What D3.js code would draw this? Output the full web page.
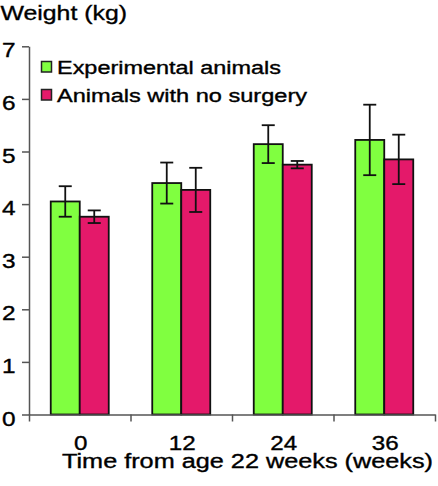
<!DOCTYPE html>
<html>
<head>
<meta charset="utf-8">
<script src="https://cdn.jsdelivr.net/npm/d3@7"></script>
<style>
  html, body { margin: 0; padding: 0; background: #fff; }
  svg { display: block; }
  text { font-family: "Liberation Sans", Arial, Helvetica, sans-serif; fill: #000; stroke: #000; stroke-width: 0.35px; }
</style>
</head>
<body>
<svg id="chart" width="438" height="486"></svg>
<script>
// ---- data ----
const categories = ["0", "12", "24", "36"];
const seriesNames = ["Experimental animals", "Animals with no surgery"];
const experimentalMean = [4.05, 4.40, 5.14, 5.22];
const experimentalErr  = [0.29, 0.39, 0.36, 0.67];
const noSurgeryMean    = [3.76, 4.27, 4.75, 4.85];
const noSurgeryErr     = [0.12, 0.42, 0.07, 0.47];
const yTicks = [0, 1, 2, 3, 4, 5, 6, 7];
const yTitle = "Weight (kg)";
const xTitle = "Time from age 22 weeks (weeks)";
const colors = ["#80FF40", "#E4196A"];

const svg = d3.select("#chart");

const y = d3.scaleLinear().domain([0, 7]).range([414.5, 46.3]);
const x0 = d3.scaleBand().domain(categories).range([29, 435]).paddingInner(0).paddingOuter(0);
const bw = x0.bandwidth();
const x1 = d3.scaleBand().domain(seriesNames).range([(bw - 58) / 2, (bw + 58) / 2]);

const series = [
  { name: seriesNames[0], mean: experimentalMean, err: experimentalErr, color: colors[0] },
  { name: seriesNames[1], mean: noSurgeryMean, err: noSurgeryErr, color: colors[1] }
];

function stretchedText(g, x, y, str, size, anchor, sx) {
  return g.append("text")
    .attr("transform", `translate(${x},${y}) scale(${sx},1)`)
    .attr("text-anchor", anchor)
    .style("font-size", size + "px")
    .text(str);
}
function fitText(g, x, y, str, size, len) {
  return g.append("text")
    .attr("x", x).attr("y", y)
    .attr("textLength", len)
    .attr("lengthAdjust", "spacingAndGlyphs")
    .style("font-size", size + "px")
    .text(str);
}

// ---- bars ----
const groups = svg.append("g").selectAll("g")
  .data(categories).join("g")
  .attr("transform", d => `translate(${x0(d)},0)`);

series.forEach(s => {
  groups.append("rect")
    .attr("x", () => x1(s.name))
    .attr("width", x1.bandwidth())
    .attr("y", (d, i) => y(s.mean[i]))
    .attr("height", (d, i) => y(0) - y(s.mean[i]))
    .attr("fill", s.color)
    .attr("stroke", "#111")
    .attr("stroke-width", 1.8);
});

// ---- error bars ----
series.forEach(s => {
  const cx = x1(s.name) + x1.bandwidth() / 2;
  const eg = groups.append("g").attr("stroke", "#111").attr("stroke-width", 1.8);
  eg.append("line").attr("x1", cx).attr("x2", cx)
    .attr("y1", (d, i) => y(s.mean[i] + s.err[i]))
    .attr("y2", (d, i) => y(s.mean[i] - s.err[i]));
  eg.append("line").attr("x1", cx - 6.5).attr("x2", cx + 6.5)
    .attr("y1", (d, i) => y(s.mean[i] + s.err[i]))
    .attr("y2", (d, i) => y(s.mean[i] + s.err[i]));
  eg.append("line").attr("x1", cx - 6.5).attr("x2", cx + 6.5)
    .attr("y1", (d, i) => y(s.mean[i] - s.err[i]))
    .attr("y2", (d, i) => y(s.mean[i] - s.err[i]));
});

// ---- y axis ----
const yAxis = svg.append("g").attr("transform", "translate(29,0)")
  .call(d3.axisLeft(y).tickValues(yTicks).tickSize(7).tickSizeOuter(0).tickFormat(""));
yAxis.selectAll("path, line").attr("stroke", "#555").attr("stroke-width", 1.5);
yTicks.forEach(t => stretchedText(svg, 15.5, y(t) + 11, String(t), 19.5, "end", 1.25));

// ---- x axis ----
const xb = d3.scaleLinear().domain([0, categories.length]).range([29, 435]);
const xAxis = svg.append("g").attr("transform", `translate(0,${y(0)})`)
  .call(d3.axisBottom(xb).tickValues(d3.range(categories.length + 1)).tickSize(7).tickSizeOuter(0).tickFormat(""));
xAxis.selectAll("path, line").attr("stroke", "#555").attr("stroke-width", 1.5);
categories.forEach(c => stretchedText(svg, x0(c) + bw / 2 + 1, 450, c, 19.5, "middle", 1.24));

// ---- titles ----
fitText(svg, 0.5, 19.5, yTitle, 21, 126.5);
fitText(svg, 62, 468, xTitle, 19.5, 371);

// ---- legend ----
const legY = [61.5, 89.5];
const legLen = [224, 250];
series.forEach((s, i) => {
  svg.append("rect").attr("x", 41.5).attr("y", legY[i]).attr("width", 10).attr("height", 10.5)
    .attr("fill", s.color).attr("stroke", "#222").attr("stroke-width", 1.5);
  fitText(svg, 57, legY[i] + 12.8, s.name, 18, legLen[i]);
});
</script>
</body>
</html>
